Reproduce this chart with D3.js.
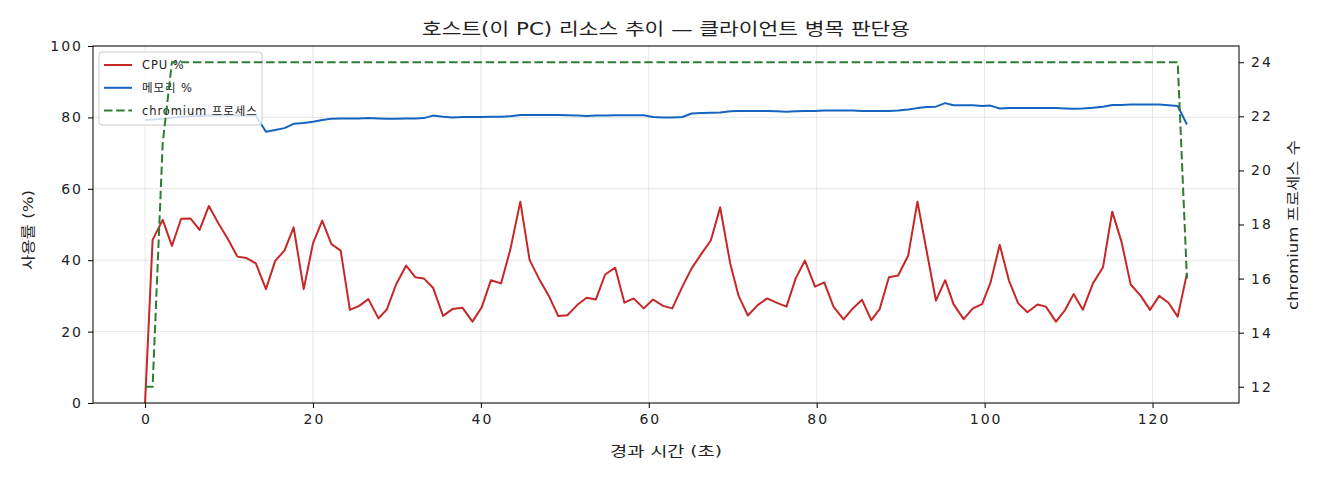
<!DOCTYPE html>
<html>
<head>
<meta charset="utf-8">
<script src="https://cdn.jsdelivr.net/npm/d3@7"></script>
<style>
  body { margin: 0; background: #fff; }
  svg text { font-family: "DejaVu Sans", "Noto Sans CJK KR", sans-serif; fill: #222; }
</style>
</head>
<body>
<div id="chart"></div>
<script>
// elapsed time (s) of each sample
const times = [
    0, 0.9, 2.1, 3.2, 4.3, 5.4, 6.5, 7.6, 8.7, 9.9,
    11.0, 12.1, 13.2, 14.4, 15.5, 16.6, 17.7, 18.9, 20.0, 21.1,
    22.2, 23.3, 24.4, 25.5, 26.6, 27.8, 28.8, 29.9, 31.1, 32.2,
    33.2, 34.3, 35.5, 36.6, 37.8, 39.0, 40.1, 41.2, 42.4, 43.5,
    44.7, 45.8, 46.9, 48.1, 49.2, 50.3, 51.5, 52.6, 53.7, 54.8,
    56.0, 57.1, 58.2, 59.4, 60.5, 61.7, 62.8, 64.0, 65.1, 66.3,
    67.4, 68.5, 69.7, 70.7, 71.8, 73.0, 74.1, 75.2, 76.4, 77.5,
    78.6, 79.8, 80.9, 82.0, 83.2, 84.3, 85.4, 86.5, 87.5, 88.6,
    89.7, 90.9, 92.0, 93.1, 94.2, 95.3, 96.3, 97.5, 98.6, 99.7,
    100.7, 101.8, 102.9, 104.0, 105.1, 106.3, 107.3, 108.5, 109.6, 110.6,
    111.7, 112.9, 114.1, 115.2, 116.3, 117.4, 118.6, 119.7, 120.8, 121.9,
    123.0, 124.1
];

const cpu = [
    0, 45.7, 51.3, 44.0, 51.6, 51.7, 48.5, 55.2, 50.5, 45.8,
    41.0, 40.6, 39.1, 31.9, 39.8, 42.7, 49.2, 31.9, 44.7, 51.1,
    44.5, 42.7, 26.1, 27.2, 29.1, 23.7, 26.2, 33.2, 38.5, 35.2,
    34.9, 32.3, 24.4, 26.3, 26.7, 22.8, 26.8, 34.4, 33.5, 42.9,
    56.4, 40.1, 34.9, 30.0, 24.4, 24.6, 27.5, 29.5, 29.0, 36.0,
    37.9, 28.1, 29.3, 26.5, 29.0, 27.2, 26.5, 32.6, 37.7, 41.9,
    45.6, 54.8, 39.1, 30.0, 24.5, 27.5, 29.3, 28.1, 27.0, 34.9,
    39.9, 32.6, 33.8, 27.0, 23.4, 26.5, 28.9, 23.2, 26.3, 35.2,
    35.7, 41.3, 56.4, 42.5, 28.7, 34.4, 27.7, 23.5, 26.5, 27.7,
    33.7, 44.3, 34.3, 27.9, 25.4, 27.6, 27.0, 22.8, 26.1, 30.5,
    26.1, 33.5, 38.0, 53.6, 45.2, 33.2, 30.0, 26.1, 30.0, 28.1,
    24.2, 36.3
];

const memory = [
    79.3, 79.4, 79.6, 79.9, 80.2, 80.3, 80.4, 80.5, 80.5, 80.5,
    80.6, 80.5, 80.5, 76.0, 76.5, 77.0, 78.2, 78.4, 78.8, 79.3,
    79.6, 79.7, 79.7, 79.7, 79.8, 79.7, 79.6, 79.6, 79.7, 79.7,
    79.8, 80.5, 80.2, 80.0, 80.1, 80.1, 80.1, 80.2, 80.2, 80.3,
    80.7, 80.7, 80.7, 80.7, 80.7, 80.6, 80.5, 80.4, 80.5, 80.5,
    80.6, 80.6, 80.6, 80.6, 80.1, 80.0, 80.0, 80.1, 81.1, 81.2,
    81.3, 81.4, 81.7, 81.8, 81.8, 81.8, 81.8, 81.7, 81.6, 81.7,
    81.8, 81.8, 81.9, 81.9, 81.9, 81.9, 81.8, 81.8, 81.8, 81.8,
    81.9, 82.2, 82.6, 82.9, 83.0, 84.0, 83.4, 83.4, 83.4, 83.2,
    83.3, 82.5, 82.6, 82.6, 82.6, 82.6, 82.6, 82.6, 82.5, 82.4,
    82.5, 82.7, 83.0, 83.5, 83.5, 83.6, 83.6, 83.6, 83.6, 83.4,
    83.2, 78.0
];

const chromium = [
    12, 12, 21,
    24, 24, 24, 24, 24, 24, 24, 24, 24, 24, 24, 24,
    24, 24, 24, 24, 24, 24, 24, 24, 24, 24, 24, 24,
    24, 24, 24, 24, 24, 24, 24, 24, 24, 24, 24, 24,
    24, 24, 24, 24, 24, 24, 24, 24, 24, 24, 24, 24,
    24, 24, 24, 24, 24, 24, 24, 24, 24, 24, 24, 24,
    24, 24, 24, 24, 24, 24, 24, 24, 24, 24, 24, 24,
    24, 24, 24, 24, 24, 24, 24, 24, 24, 24, 24, 24,
    24, 24, 24, 24, 24, 24, 24, 24, 24, 24, 24, 24,
    24, 24, 24, 24, 24, 24, 24, 24, 24, 24, 24, 24,
    16
];

const xTicks = [0, 20, 40, 60, 80, 100, 120];
const yLeftTicks = [0, 20, 40, 60, 80, 100];
const yRightTicks = [12, 14, 16, 18, 20, 22, 24];

const legendItems = [
    { label: "CPU %", color: "#c62828", dash: null },
    { label: "메모리 %", color: "#1565c0", dash: null },
    { label: "chromium 프로세스", color: "#2e7d32", dash: "8.5,3.7" }
];

drawChart();

function drawChart() {
    const width = 1320;
    const height = 480;
    const margin = { top: 46, right: 81, bottom: 77, left: 93 };
    const innerW = width - margin.left - margin.right;
    const innerH = height - margin.top - margin.bottom;

    const svg = d3.select("#chart").append("svg")
        .attr("width", width)
        .attr("height", height);

    const g = svg.append("g")
        .attr("transform", `translate(${margin.left},${margin.top})`);

    const x = d3.scaleLinear().domain([-6.2, 130.3]).range([0, innerW]);
    const yL = d3.scaleLinear().domain([0, 100]).range([innerH, 0]);
    const yR = d3.scaleLinear().domain([11.4, 24.6]).range([innerH, 0]);

    // grid
    g.append("g")
        .selectAll("line")
        .data(xTicks)
        .enter()
        .append("line")
        .attr("x1", d => x(d)).attr("x2", d => x(d))
        .attr("y1", 0).attr("y2", innerH)
        .style("stroke", "#b0b0b0").style("stroke-opacity", 0.3).style("stroke-width", 1);

    g.append("g")
        .selectAll("line")
        .data(yLeftTicks)
        .enter()
        .append("line")
        .attr("x1", 0).attr("x2", innerW)
        .attr("y1", d => yL(d)).attr("y2", d => yL(d))
        .style("stroke", "#b0b0b0").style("stroke-opacity", 0.3).style("stroke-width", 1);

    const lineL = vals => d3.line()
        .x((d, i) => x(times[i]))
        .y(d => yL(d))(vals);

    g.append("path")
        .attr("d", lineL(cpu))
        .style("fill", "none")
        .style("stroke", legendItems[0].color)
        .style("stroke-width", 2)
        .style("stroke-linejoin", "round");

    g.append("path")
        .attr("d", lineL(memory))
        .style("fill", "none")
        .style("stroke", legendItems[1].color)
        .style("stroke-width", 2)
        .style("stroke-linejoin", "round");

    // legend sits on the left axis, so the right-axis line is drawn over it
    const legend = g.append("g").attr("transform", "translate(6,6)");
    legend.append("rect")
        .attr("width", 163).attr("height", 73)
        .attr("rx", 3)
        .style("fill", "#fff").style("fill-opacity", 0.8)
        .style("stroke", "#ccc").style("stroke-width", 1);

    legendItems.forEach((item, i) => {
        const cy = 13 + i * 22.8;
        legend.append("line")
            .attr("x1", 5).attr("x2", 33)
            .attr("y1", cy).attr("y2", cy)
            .style("stroke", item.color)
            .style("stroke-width", 2)
            .style("stroke-dasharray", item.dash);
        legend.append("text")
            .attr("x", 43).attr("y", cy)
            .attr("dy", "0.35em")
            .style("font-size", "11.5px")
            .style("letter-spacing", "0.9px")
            .text(item.label);
    });

    g.append("path")
        .attr("d", d3.line().x((d, i) => x(times[i])).y(d => yR(d))(chromium))
        .style("fill", "none")
        .style("stroke", legendItems[2].color)
        .style("stroke-width", 2)
        .style("stroke-dasharray", "8.5,3.7");

    // frame
    g.append("rect")
        .attr("width", innerW).attr("height", innerH)
        .style("fill", "none").style("stroke", "#000").style("stroke-width", 1);

    // axes
    const axisX = g.append("g")
        .attr("transform", `translate(0,${innerH})`)
        .call(d3.axisBottom(x).tickValues(xTicks).tickSize(5).tickPadding(6));
    const axisL = g.append("g")
        .call(d3.axisLeft(yL).tickValues(yLeftTicks).tickSize(5).tickPadding(5));
    const axisR = g.append("g")
        .attr("transform", `translate(${innerW},0)`)
        .call(d3.axisRight(yR).tickValues(yRightTicks).tickSize(5).tickPadding(7));

    [axisX, axisL, axisR].forEach(a => {
        a.select(".domain").remove();
        a.selectAll("text")
            .style("font-size", "14px")
            .style("letter-spacing", "2px")
            .style("fill", "#222");
        a.selectAll("line").style("stroke", "#000");
    });
    axisX.selectAll("text").attr("dx", "1px");

    // labels (glyphs stretched a little to the wider face of the original)
    svg.append("text")
        .attr("x", margin.left + innerW / 2)
        .attr("y", 35)
        .attr("text-anchor", "middle")
        .attr("textLength", 488)
        .attr("lengthAdjust", "spacingAndGlyphs")
        .style("font-size", "17px")
        .text("호스트(이 PC) 리소스 추이 — 클라이언트 병목 판단용");

    svg.append("text")
        .attr("x", margin.left + innerW / 2)
        .attr("y", 456)
        .attr("text-anchor", "middle")
        .attr("textLength", 112)
        .attr("lengthAdjust", "spacingAndGlyphs")
        .style("font-size", "14px")
        .text("경과 시간 (초)");

    svg.append("text")
        .attr("transform", `translate(33,${margin.top + 184}) rotate(-90)`)
        .attr("text-anchor", "middle")
        .attr("textLength", 80)
        .attr("lengthAdjust", "spacingAndGlyphs")
        .style("font-size", "14px")
        .text("사용률 (%)");

    svg.append("text")
        .attr("transform", `translate(1298,${margin.top + 179}) rotate(-90)`)
        .attr("text-anchor", "middle")
        .attr("textLength", 170)
        .attr("lengthAdjust", "spacingAndGlyphs")
        .style("font-size", "14px")
        .text("chromium 프로세스 수");
}
</script>
</body>
</html>
